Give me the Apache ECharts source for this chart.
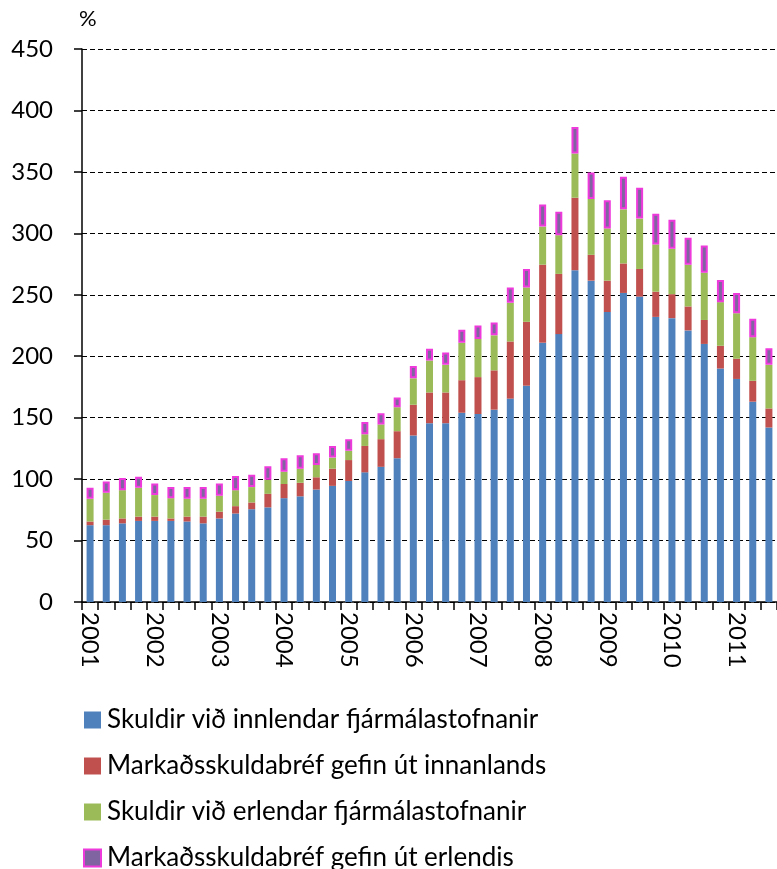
<!DOCTYPE html>
<html>
<head>
<meta charset="utf-8">
<script src="https://cdn.jsdelivr.net/npm/echarts@6/dist/echarts.min.js"></script>
<style>
  html, body { margin: 0; padding: 0; background: #fff; }
  #main { width: 777px; height: 869px; }
</style>
</head>
<body>
<div id="main"></div>
<script>
// ársfjórðungar 2001 K1 - 2011 K3
var years = ['2001', '2002', '2003', '2004', '2005', '2006', '2007', '2008', '2009', '2010', '2011']
var quartersInLastYear = 3

// % af VLF
var innlendar = [62.5, 62.5, 64, 66, 66, 66, 65.5, 64, 68, 72, 75.5, 77,
  84.5, 86, 91.5, 94.5, 98.5, 105.5, 110, 117, 135.5, 145.5, 145.5, 154,
  153, 156.5, 165.5, 176, 211, 218, 270, 261.5, 236, 251.5, 248.5, 232,
  231, 221, 210, 190, 181.5, 163, 142]
var markadInnan = [3, 4.5, 4, 3.5, 3.5, 2, 4, 5.5, 5.5, 6, 5.5, 11,
  11.5, 11, 10, 14, 17, 21.5, 22.5, 22, 25, 25, 25, 26.5,
  30, 32, 46.5, 52, 63.5, 49, 59, 21, 25.5, 24, 22.5, 20.5,
  19.5, 19.5, 19.5, 18.5, 16.5, 17, 15.5]
var erlendar = [18.5, 22, 23, 23.5, 17.5, 16.5, 14.5, 14.5, 13, 13, 12.5, 11.5,
  10, 11.5, 10, 9, 7.5, 9.5, 12, 19.5, 21.5, 26, 22.5, 30.5,
  31, 28.5, 31.5, 28, 31, 31.5, 36, 45.5, 42.5, 44, 41, 38.5,
  37, 34, 38.5, 35.5, 37, 35.5, 35.5]
var markadErlendis = [9, 9, 10, 9, 9.5, 9, 9.5, 9.5, 10, 11.5, 10, 11,
  11, 11, 9.5, 9.5, 9.5, 10, 9, 8, 10, 9.5, 10, 10.5,
  11, 10.5, 12.5, 15, 18, 19, 21.5, 21.5, 23, 26.5, 25, 25,
  23.5, 22, 22, 18, 16.5, 15, 13.5]

var seriesNames = [
  'Skuldir við innlendar fjármálastofnanir',
  'Markaðsskuldabréf gefin út innanlands',
  'Skuldir við erlendar fjármálastofnanir',
  'Markaðsskuldabréf gefin út erlendis'
]

var categories = []
for (var i = 0; i < years.length; i++) {
  var n = (i == years.length - 1) ? quartersInLastYear : 4
  for (var q = 1; q <= n; q++) {
    categories.push(years[i] + 'K' + q)
  }
}

var font = 'Lato, "Open Sans", sans-serif'

var option = {
  animation: false,
  textStyle: { fontFamily: font },
  grid: { left: 82, right: -6, top: 49, bottom: 267 },
  legend: {
    orient: 'vertical',
    left: 78,
    top: 702,
    height: 300,  // laet sidasta lidinn skerast af neðst, eins og á myndinni
    icon: 'rect',
    itemWidth: 17,
    itemHeight: 17,
    itemGap: 20,
    textStyle: { fontFamily: font, fontSize: 26, lineHeight: 26, color: '#000', padding: [0, 0, 0, 1] },
    data: seriesNames
  },
  xAxis: {
    type: 'category',
    data: categories,
    axisLine: { lineStyle: { color: '#000', width: 1.5 } },
    axisTick: { show: true, interval: 0, length: 8, lineStyle: { color: '#000', width: 1.5 } },
    axisLabel: {
      interval: 3,
      rotate: -90,
      margin: 10,
      fontSize: 24,
      color: '#000',
      fontFamily: font,
      formatter: function (v) { return v.slice(0, 4) }
    }
  },
  yAxis: {
    type: 'value',
    min: 0,
    max: 450,
    interval: 50,
    name: '%',
    nameLocation: 'end',
    nameGap: 19,
    nameTextStyle: { fontSize: 22, color: '#000', fontFamily: font, align: 'left', padding: [0, 0, 0, -3] },
    axisLine: { show: true, lineStyle: { color: '#000', width: 1.5 } },
    axisTick: { show: true, length: 8, inside: false, lineStyle: { color: '#000', width: 1.5 } },
    axisLabel: { margin: 29, fontSize: 24, color: '#000', fontFamily: font },
    splitLine: { show: true, lineStyle: { color: '#000', width: 1, type: [5, 3] } }
  },
  series: [
    {
      name: seriesNames[0], type: 'bar', stack: 'a', barWidth: 7,
      itemStyle: { color: '#4F81BD' },
      data: innlendar
    },
    {
      name: seriesNames[1], type: 'bar', stack: 'a', barWidth: 7,
      itemStyle: { color: '#C0504D' },
      data: markadInnan
    },
    {
      name: seriesNames[2], type: 'bar', stack: 'a', barWidth: 7,
      itemStyle: { color: '#9BBB59' },
      data: erlendar
    },
    {
      name: seriesNames[3], type: 'bar', stack: 'a', barWidth: 7,
      itemStyle: { color: '#8064A2', borderColor: '#EE3ADB', borderWidth: 2 },
      data: markadErlendis
    }
  ]
}

var chartDom = document.getElementById('main')
var myChart = echarts.init(chartDom, null, { renderer: 'canvas' })
myChart.setOption(option)
</script>
</body>
</html>
